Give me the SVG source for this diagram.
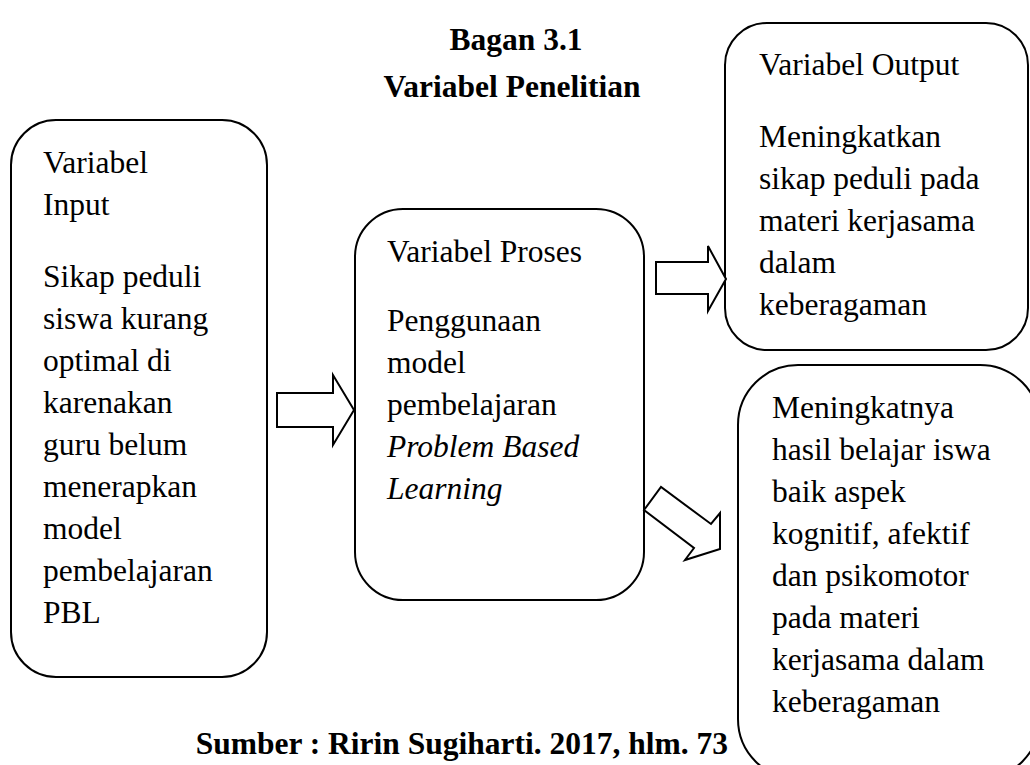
<svg xmlns="http://www.w3.org/2000/svg" width="1030" height="765" viewBox="0 0 1030 765">
<style>
.box{fill:#fff;stroke:#000;stroke-width:2}
.arr{fill:#fff;stroke:#000;stroke-width:2;stroke-linejoin:miter}
.t{font-family:"Liberation Serif","Times New Roman",serif;font-size:31.5px;fill:#000}
.b{font-weight:bold}
.i{font-style:italic}
</style>
<rect width="1030" height="765" fill="#fff"/>
<g id="title">
<text class="t b" x="516" y="50" text-anchor="middle">Bagan 3.1</text>
<text class="t b" x="512" y="97" text-anchor="middle">Variabel Penelitian</text>
</g>
<g id="input">
<rect class="box" x="11" y="120" width="256" height="557" rx="45" ry="45"/>
<text class="t" x="43" y="173">Variabel</text>
<text class="t" x="43" y="215">Input</text>
<text class="t" x="43" y="287">Sikap peduli</text>
<text class="t" x="43" y="329">siswa kurang</text>
<text class="t" x="43" y="371">optimal di</text>
<text class="t" x="43" y="413">karenakan</text>
<text class="t" x="43" y="455">guru belum</text>
<text class="t" x="43" y="497">menerapkan</text>
<text class="t" x="43" y="539">model</text>
<text class="t" x="43" y="581">pembelajaran</text>
<text class="t" x="43" y="623">PBL</text>
</g>
<g id="process">
<rect class="box" x="355" y="209" width="289" height="391" rx="48" ry="48"/>
<text class="t" x="387" y="262">Variabel Proses</text>
<text class="t" x="387" y="331">Penggunaan</text>
<text class="t" x="387" y="373">model</text>
<text class="t" x="387" y="415">pembelajaran</text>
<text class="t i" x="387" y="457">Problem Based</text>
<text class="t i" x="387" y="499">Learning</text>
</g>
<g id="output">
<rect class="box" x="725" y="23" width="303" height="327" rx="42" ry="42"/>
<text class="t" x="759" y="75">Variabel Output</text>
<text class="t" x="759" y="147">Meningkatkan</text>
<text class="t" x="759" y="189">sikap peduli pada</text>
<text class="t" x="759" y="231">materi kerjasama</text>
<text class="t" x="759" y="273">dalam</text>
<text class="t" x="759" y="315">keberagaman</text>
</g>
<g id="output2">
<rect class="box" x="738" y="365" width="302" height="414" rx="60" ry="60"/>
<text class="t" x="772" y="418">Meningkatnya</text>
<text class="t" x="772" y="460">hasil belajar iswa</text>
<text class="t" x="772" y="502">baik aspek</text>
<text class="t" x="772" y="544">kognitif, afektif</text>
<text class="t" x="772" y="586">dan psikomotor</text>
<text class="t" x="772" y="628">pada materi</text>
<text class="t" x="772" y="670">kerjasama dalam</text>
<text class="t" x="772" y="712">keberagaman</text>
</g>
<g id="connectors">
<polygon class="arr" points="277,393 333,393 333,375 354,410 333,445 333,427 277,427"/>
<polygon class="arr" points="656,262 708,262 708,246 726,279 708,311 708,294 656,294"/>
<polygon class="arr" points="644,510 661,487 711,524 720,513 720,549 685,560 694,548"/>
</g>
<g id="source">
<text class="t b" x="728" y="754" text-anchor="end">Sumber : Ririn Sugiharti. 2017, hlm. 73</text>
</g>
</svg>
